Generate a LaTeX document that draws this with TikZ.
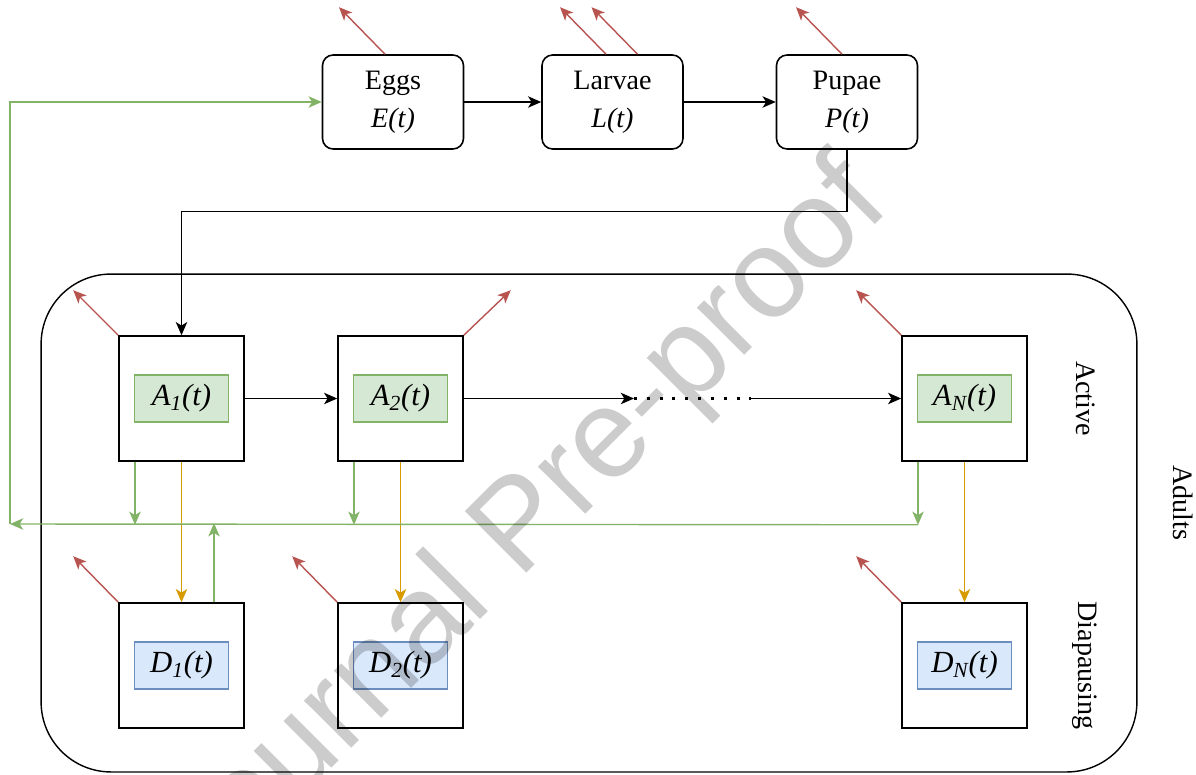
\documentclass[tikz,border=0pt]{standalone}
\usepackage{fontspec}
\setmainfont{Liberation Serif}
\newfontfamily\wmfont{Liberation Sans}
\usetikzlibrary{arrows.meta}
\definecolor{mortred}{HTML}{B85450}
\definecolor{actline}{HTML}{82B366}
\definecolor{actfill}{HTML}{D5E8D4}
\definecolor{dialine}{HTML}{6C8EBF}
\definecolor{diafill}{HTML}{DAE8FC}
\definecolor{entline}{HTML}{D79B00}

\begin{document}
\begin{tikzpicture}[x=0.02cm,y=-0.02cm,->,>={Stealth[length=7.5pt,width=6.5pt,inset=2pt]},line width=0.8pt,font=\fontsize{16}{21.5}\selectfont,
  stage/.style={draw,-,line width=0.9pt,rounded corners=6pt,minimum width=2.82cm,minimum height=1.88cm,align=center},
  cell/.style={draw,-,line width=0.9pt,minimum width=2.5cm,minimum height=2.5cm},
  actbox/.style={draw=actline,fill=actfill,-,line width=0.8pt,minimum width=1.88cm,minimum height=0.94cm,inner sep=0pt,font=\fontsize{17.5}{20}\selectfont\itshape},
  diabox/.style={actbox,draw=dialine,fill=diafill},
  die/.style={mortred},
  feed/.style={actline},
  enter/.style={entline},
  side/.style={rotate=-90}]
  \useasboundingbox (0,0) rectangle (1196,774);

  \node[draw,-,line width=0.8pt,rounded corners=1.4cm,minimum width=21.92cm,minimum height=9.96cm] (adults) at (589,523) {};

  \node[stage] (eggs) at (393,102) {Eggs\\\textit{E(t)}};
  \node[stage] (larvae) at (612.5,102) {Larvae\\\textit{L(t)}};
  \node[stage] (pupae) at (847,102) {Pupae\\\textit{P(t)}};

  \node[cell] (a1) at (181.5,398.5) {};
  \node[cell] (a2) at (400.5,398.5) {};
  \node[cell] (aN) at (964.5,398.5) {};
  \node[cell] (d1) at (181.5,665.5) {};
  \node[cell] (d2) at (400.5,665.5) {};
  \node[cell] (dN) at (964.5,665.5) {};
  \node[actbox] (a1in) at (a1) {A\textsubscript{1}(t)};
  \node[actbox] (a2in) at (a2) {A\textsubscript{2}(t)};
  \node[actbox] (aNin) at (aN) {A\textsubscript{N}(t)};
  \node[diabox] (d1in) at (d1) {D\textsubscript{1}(t)};
  \node[diabox] (d2in) at (d2) {D\textsubscript{2}(t)};
  \node[diabox] (dNin) at (dN) {D\textsubscript{N}(t)};

  \node[side] (active) at (1086,398.5) {Active};
  \node[side] (diap) at (1085,665.5) {Diapausing};
  \node[side] (adl) at (1183,503) {Adults};

  \coordinate (dotsa) at (634,398.5);
  \coordinate (dotsb) at (751,398.5);
  \coordinate (ret) at (10,524);

  \draw (eggs) -- (larvae);
  \draw (larvae) -- (pupae);
  \draw (pupae.south) -- ++(0,62) -| (a1.north);
  \draw (a1) -- (a2);
  \draw (a2) -- (dotsa);
  \draw[-,line width=1.7pt,dash pattern=on 1.7pt off 5.6pt] (dotsa) -- (dotsb);
  \draw (dotsb) -- (aN);

  \draw[die] (eggs.north) ++(-8,0) -- ++(-46,-47);
  \draw[die] (larvae.north) ++(-6.5,0) -- ++(-46,-47);
  \draw[die] (larvae.north) ++(25,0) -- ++(-46,-47);
  \draw[die] (pupae.north) ++(-5,0) -- ++(-46,-47);
  \draw[die] (a1.north west) -- ++(-45,-45);
  \draw[die] (a2.north east) -- ++(47,-45);
  \draw[die] (aN.north west) -- ++(-45,-45);
  \draw[die] (d1.north west) -- ++(-45,-46);
  \draw[die] (d2.north west) -- ++(-45,-46);
  \draw[die] (dN.north west) -- ++(-45,-46);

  \draw[enter] (a1) -- (d1);
  \draw[enter] (a2) -- (d2);
  \draw[enter] (aN) -- (dN);

  \draw[feed] (a1.south) ++(-46.5,0) -- ++(0,63);
  \draw[feed] (a2.south) ++(-46.5,0) -- ++(0,63);
  \draw[feed] (aN.south) ++(-46.5,0) -- ++(0,63);
  \draw[feed] (d1.north) ++(32.5,0) -- ++(0,-79);
  \draw[feed] (aN.south) ++(-46.5,63) -- (ret);
  \draw[feed] (ret) |- (eggs);

  \begin{scope}[blend mode=multiply]
    \node[-,rotate=45,anchor=base,text=black!20,font=\wmfont\fontsize{72}{72}\selectfont] (wm) at (547,553) {Journal Pre-proof};
  \end{scope}
\end{tikzpicture}
\end{document}
